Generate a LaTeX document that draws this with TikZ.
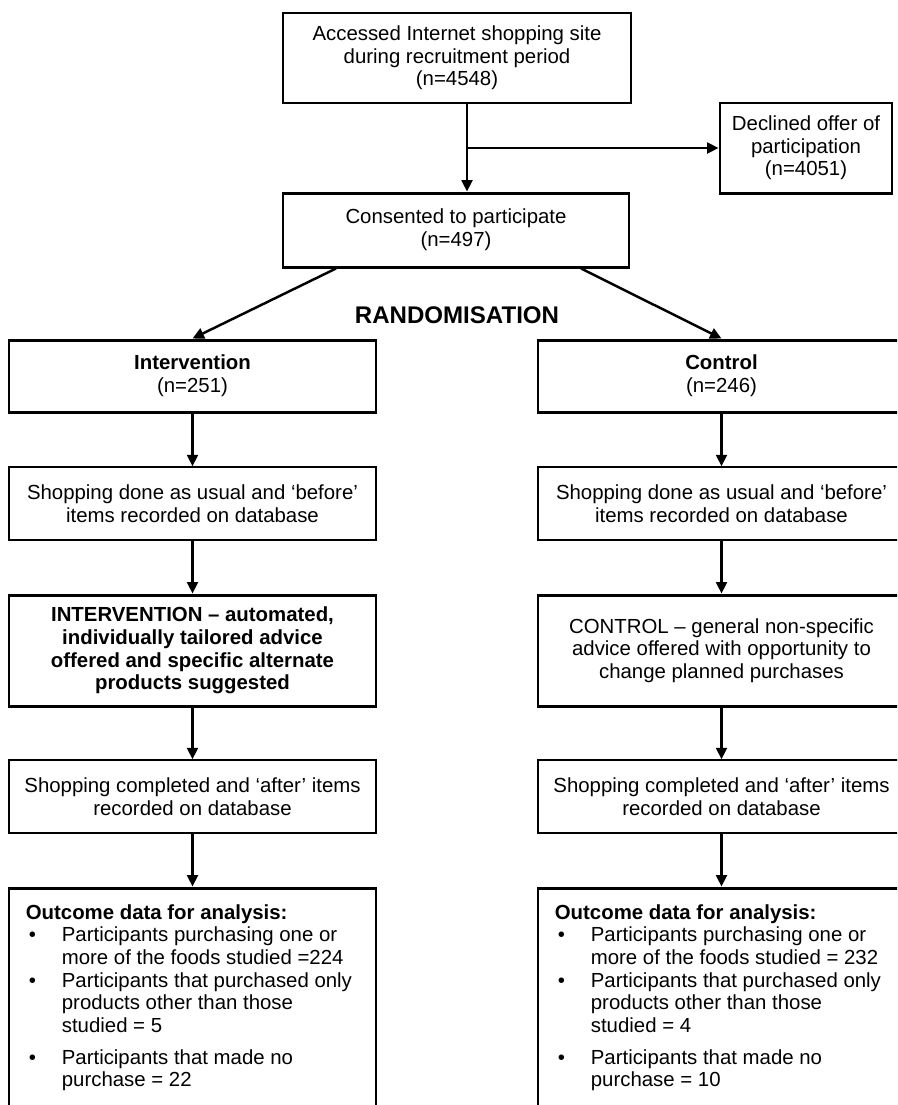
\documentclass[tikz,border=0pt]{standalone}
\usepackage{fontspec}
\setmainfont{Liberation Sans}
\usetikzlibrary{arrows.meta}

\begin{document}
\begin{tikzpicture}[y=-1cm, font=\fontsize{11.6}{12.9}\selectfont]
        \tikzset{
        box/.style={rectangle, draw, line width=1.7pt, align=center, inner sep=0pt},
        lightbox/.style={rectangle, draw, line width=0.85pt, align=center, inner sep=0pt},
        col/.style={minimum width=7.34cm},
        outtxt/.style={inner sep=0pt, anchor=north west},
        arr/.style={-{Triangle[length=0.23cm,width=0.22cm]}, line width=1.4pt}
        }
        \useasboundingbox (0,0) rectangle (17.94,22.10);
        \clip (0,0) rectangle (17.94,22.10);

        % recruitment
        \node[box, minimum width=6.96cm, minimum height=1.80cm] (site) at (9.14,1.16)
            {Accessed Internet shopping site\\during recruitment period\\(n=4548)};
        \node[box, minimum width=3.44cm, minimum height=1.80cm] (decl) at (16.12,2.96)
            {Declined offer of\\participation\\(n=4051)};
        \node[box, minimum width=6.92cm, minimum height=1.48cm] (cons) at (9.12,4.60)
            {Consented to participate\\(n=497)};
        \node[font=\fontsize{13.7}{15}\selectfont\bfseries] (rand) at (9.14,6.30) {RANDOMISATION};

        % the two arms
        \node[box, col, minimum height=1.44cm] (intv) at (3.85,7.52) {{\bfseries Intervention}\\(n=251)};
        \node[box, col, minimum height=1.44cm] (ctrl) at (14.43,7.52) {{\bfseries Control}\\(n=246)};

        \node[lightbox, col, minimum height=1.46cm] (befL) at (3.85,10.07)
            {Shopping done as usual and ‘before’\\items recorded on database};
        \node[lightbox, col, minimum height=1.46cm] (befR) at (14.43,10.07)
            {Shopping done as usual and ‘before’\\items recorded on database};

        \node[box, col, minimum height=2.22cm, font=\fontsize{11.6}{12.9}\selectfont\bfseries] (advL) at (3.85,13.01)
            {INTERVENTION – automated,\\individually tailored advice\\offered and specific alternate\\products suggested};
        \node[box, col, minimum height=2.22cm] (advR) at (14.43,13.01)
            {CONTROL – general non-specific\\advice offered with opportunity to\\change planned purchases};

        \node[lightbox, col, minimum height=1.46cm] (aftL) at (3.85,15.93)
            {Shopping completed and ‘after’ items\\recorded on database};
        \node[lightbox, col, minimum height=1.46cm] (aftR) at (14.43,15.93)
            {Shopping completed and ‘after’ items\\recorded on database};

        \node[box, col, minimum height=5.0cm] (outL) at (3.85,20.26) {};
        \node[box, col, minimum height=5.0cm] (outR) at (14.43,20.26) {};

        \node[outtxt] (outLtxt) at ([xshift=0.36cm, yshift=-0.33cm]outL.north west) {%
        \begin{tabular}{@{\hspace{1.7pt}}p{18.8pt}@{}l@{}}
        \multicolumn{2}{@{}l@{}}{\bfseries Outcome data for analysis:}\\
        \textbullet & Participants purchasing one or\\
        & more of the foods studied =224\\
        \textbullet & Participants that purchased only\\
        & products other than those\\
        & studied = 5\\[5pt]
        \textbullet & Participants that made no\\
        & purchase = 22
        \end{tabular}};
        \node[outtxt] (outRtxt) at ([xshift=0.36cm, yshift=-0.33cm]outR.north west) {%
        \begin{tabular}{@{\hspace{1.7pt}}p{18.8pt}@{}l@{}}
        \multicolumn{2}{@{}l@{}}{\bfseries Outcome data for analysis:}\\
        \textbullet & Participants purchasing one or\\
        & more of the foods studied = 232\\
        \textbullet & Participants that purchased only\\
        & products other than those\\
        & studied = 4\\[5pt]
        \textbullet & Participants that made no\\
        & purchase = 10
        \end{tabular}};

        % connectors
        \coordinate (split) at (9.34,2.96);
        \draw[arr] (site.south -| split) -- (cons.north -| split);
        \draw[arr] (split) -- (decl.west);
        \draw[arr] ([xshift=-2.40cm]cons.south) -- (intv.north);
        \draw[arr] ([xshift=2.50cm]cons.south) -- (ctrl.north);
        \draw[arr] (intv) -- (befL);
        \draw[arr] (befL) -- (advL);
        \draw[arr] (advL) -- (aftL);
        \draw[arr] (aftL) -- (outL.north);
        \draw[arr] (ctrl) -- (befR);
        \draw[arr] (befR) -- (advR);
        \draw[arr] (advR) -- (aftR);
        \draw[arr] (aftR) -- (outR.north);
\end{tikzpicture}
\end{document}
